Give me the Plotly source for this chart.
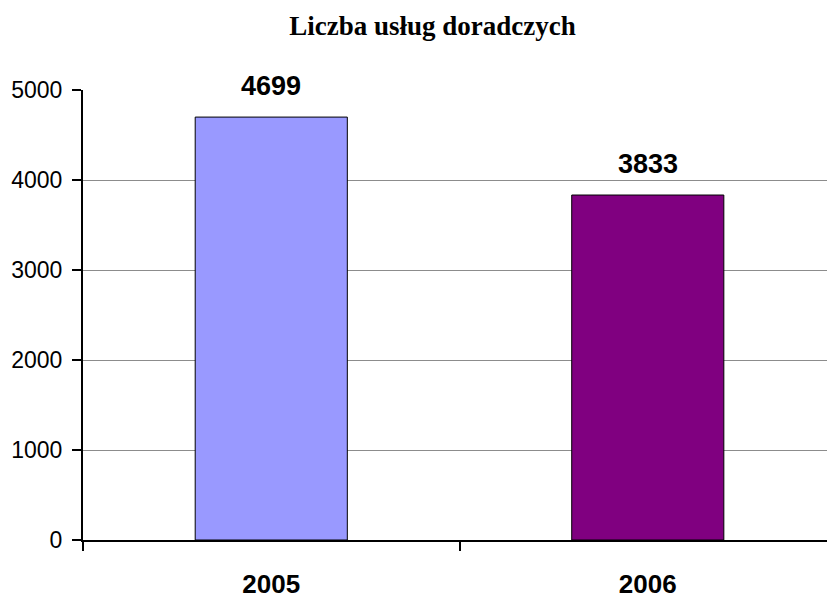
import plotly.graph_objects as go

categories = ["2005", "2006"]
values = [4699, 3833]
colors = ["#9999FF", "#800080"]
y_ticks = [0, 1000, 2000, 3000, 4000, 5000]
title_text = "Liczba usług doradczych"

fig = go.Figure()
fig.add_trace(go.Bar(
    x=categories, y=values, width=0.404,
    marker=dict(color=colors, line=dict(color="black", width=1)),
    hoverinfo="skip",
))

for i, v in enumerate(values):
    fig.add_annotation(x=i, y=v, xref="x", yref="y", text=f"<b>{v}</b>", showarrow=False,
                       yanchor="bottom", yshift=14,
                       font=dict(family="Liberation Sans, Arial", size=27, color="black"))

fig.update_layout(
    width=827, height=598,
    margin=dict(l=83, r=0, t=90, b=58),
    paper_bgcolor="white", plot_bgcolor="white",
    showlegend=False,
    title=dict(text=f"<b>{title_text}</b>", x=0.523, xanchor="center", y=0.957, yanchor="middle",
               font=dict(family="Liberation Serif, Times New Roman", size=27, color="black")),
    xaxis=dict(
        type="category", range=[-0.5, 1.476], automargin=False,
        showline=True, linecolor="black", linewidth=2,
        ticks="outside", tickson="boundaries", ticklen=9, tickwidth=1.5, tickcolor="black",
        tickfont=dict(family="Liberation Sans, Arial", size=26, color="black"),
        ticktext=[f"<b>{c}</b>" for c in categories], tickvals=categories,
        ticklabelstandoff=20,
        showgrid=False, zeroline=False,
    ),
    yaxis=dict(
        range=[0, 5000], tickvals=y_ticks, automargin=False,
        showline=True, linecolor="black", linewidth=2,
        ticks="outside", ticklen=9, tickwidth=1.5, tickcolor="black",
        tickfont=dict(family="Liberation Sans, Arial", size=23, color="black"),
        ticklabelstandoff=5,
        showgrid=True, gridcolor="#8c8c8c", gridwidth=1,
        zeroline=False,
    ),
)

fig.write_html("out.html", config={"displayModeBar": False},
               post_script="document.body.style.margin='0';document.body.style.overflow='hidden';")
